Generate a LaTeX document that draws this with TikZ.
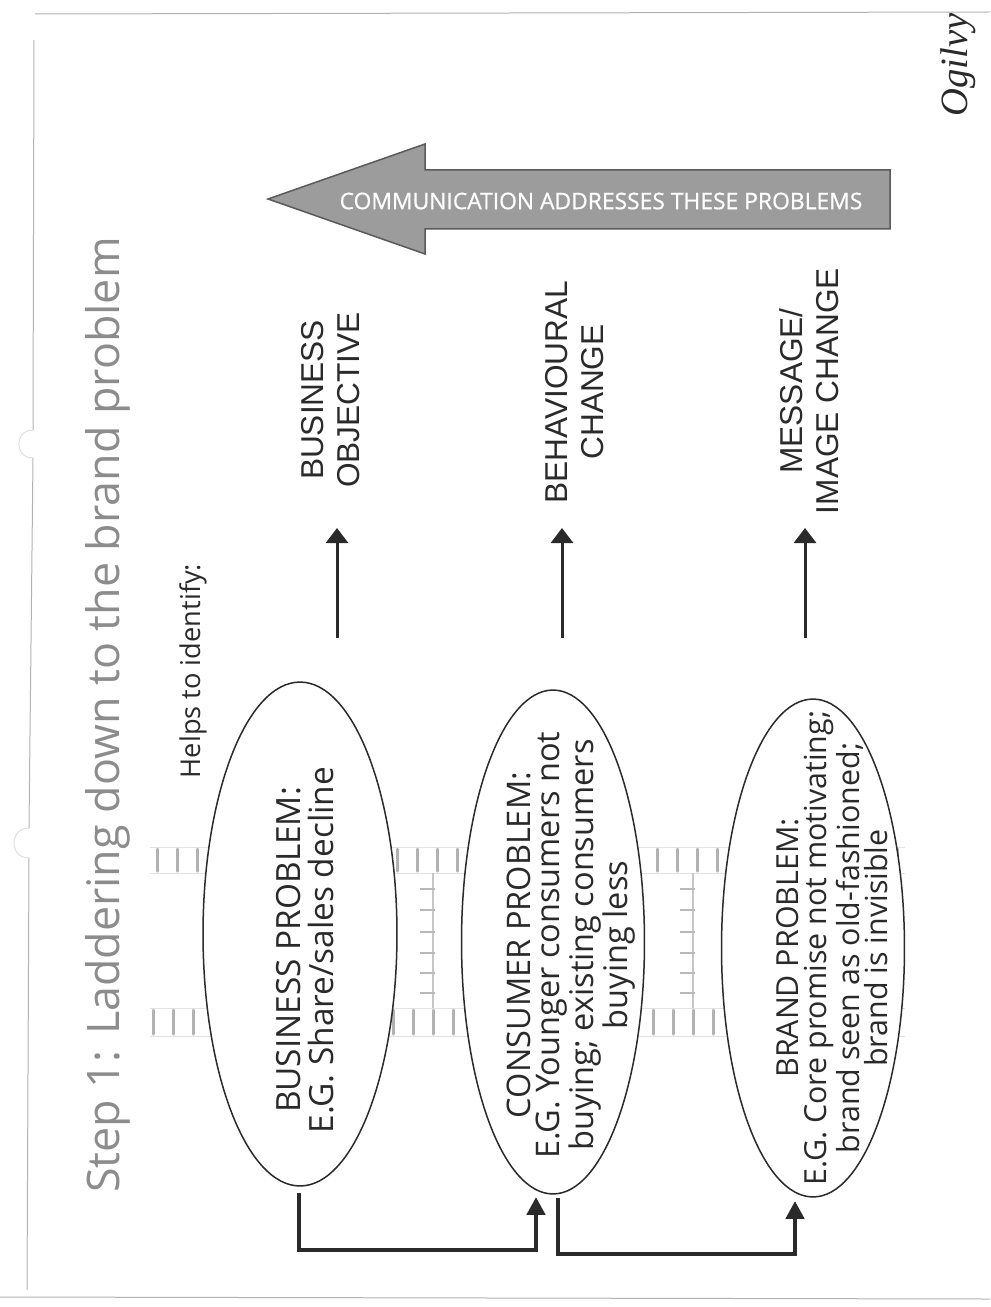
\documentclass[tikz,border=0pt]{standalone}
\usepackage{fontspec}
\setmainfont{Open Sans}
\newfontfamily\labelfont{Liberation Sans}
\newfontfamily\signfont{Liberation Serif}
\newfontfamily\bannerfont[FakeBold=0.8]{Open Sans}
\usetikzlibrary{shapes.geometric,arrows.meta,calc}
\definecolor{ink}{HTML}{2A2A2A}
\definecolor{titlegray}{HTML}{8C8C8C}
\definecolor{arrowfill}{HTML}{9C9C9C}
\definecolor{arrowedge}{HTML}{5A5A5A}
\begin{document}
\begin{tikzpicture}[x=0.02cm,y=-0.02cm,
  frameline/.style={draw=gray!60,line width=0.02cm},
  holeline/.style={draw=gray!25,line width=0.02cm},
  rungmark/.style={draw=gray!60,line width=0.06cm,line cap=round},
  rungguide/.style={draw=gray!22,line width=0.02cm},
  railline/.style={draw=gray!45,line width=0.025cm},
  railtick/.style={draw=gray!55,line width=0.04cm},
  problem/.style={ellipse,draw=ink,fill=white,line width=0.03cm,inner sep=0pt,outer sep=0pt},
  problemtext/.style={rotate=90,align=center,text=ink,inner sep=0pt},
  goal/.style={rotate=90,align=center,text=ink,inner sep=0pt,
    font=\labelfont\fontsize{18}{20.5}\selectfont},
  upmark/.style={draw=ink,line width=0.06cm,-{Triangle[width=0.44cm,length=0.3cm]}},
  ladderlink/.style={draw=ink,line width=0.09cm,-{Triangle[width=0.36cm,length=0.36cm]}},
  bigarrow/.style={fill=arrowfill,draw=arrowedge,line width=0.03cm,line join=miter}]
\useasboundingbox (0,0) rectangle (990,1307);

% page edges and punch holes
\draw[frameline] (35,14) -- (990,12);
\draw[frameline] (0,1297) -- (990,1299);
\draw[frameline] (34,40) -- (33,430);
\draw[frameline] (33,458) -- (29,828);
\draw[frameline] (29,858) -- (27,1290);
\draw[holeline] (33,430) .. controls (14,430) and (14,458) .. (33,458);
\draw[holeline] (29,828) .. controls (9,828) and (9,858) .. (29,858);

% title and intro
\node[rotate=90,text=titlegray,font=\fontsize{25.5}{28}\selectfont,inner sep=0pt] (title) at (108,715)
  {Step 1: Laddering down to the brand problem};
\node[rotate=90,text=ink,font=\fontsize{15.5}{17}\selectfont,inner sep=0pt] (helps) at (193,671)
  {Helps to identify:};

% ladder behind the problem ellipses
\foreach \yy in {847,873,1008,1036} \draw[rungguide] (150,\yy) -- (905,\yy);
\foreach \xx in {157,177,...,897} {
  \draw[rungmark] (\xx,849) -- (\xx,871);
  \draw[rungmark] (\xx-4,1010) -- (\xx-4,1034);
}
\foreach \rx in {433,693} {
  \draw[railline] (\rx,873) -- (\rx,1008);
  \foreach \ty in {889,910,932,953,973,993} \draw[railtick] (\rx-13,\ty) -- (\rx+2,\ty);
}

% the three problem levels
\node[problem,minimum width=3.88cm,minimum height=10.08cm] (business) at (300,934) {};
\node[problem,minimum width=3.66cm,minimum height=10.08cm] (consumer) at (553,942) {};
\node[problem,minimum width=3.66cm,minimum height=9.96cm] (brand) at (813,948) {};

\node[problemtext,font=\fontsize{19}{19}\selectfont] (businesstext) at (305,950)
  {BUSINESS PROBLEM:\\E.G. Share/sales decline};
\node[problemtext,font=\fontsize{18.5}{16.5}\selectfont] (consumertext) at (571,945)
  {CONSUMER PROBLEM:\\E.G. Younger consumers not\\buying; existing consumers\\buying less};
\node[problemtext,font=\fontsize{17.3}{16.3}\selectfont] (brandtext) at (832,948)
  {BRAND PROBLEM:\\E.G. Core promise not motivating;\\brand seen as old-fashioned;\\brand is invisible};

% what each level helps to identify
\node[goal] (objective) at (331,400) {BUSINESS\\OBJECTIVE};
\node[goal] (behaviour) at (575,392) {BEHAVIOURAL\\CHANGE};
\node[goal] (message) at (809,391) {MESSAGE/\\IMAGE CHANGE};

\coordinate (objfrom) at (337,638);
\coordinate (objto) at (337,528);
\coordinate (behfrom) at (562,638);
\coordinate (behto) at (562,528);
\coordinate (msgfrom) at (805,638);
\coordinate (msgto) at (805,528);
\draw[upmark] (objfrom) -- (objto);
\draw[upmark] (behfrom) -- (behto);
\draw[upmark] (msgfrom) -- (msgto);

% laddering links between the levels
\draw[ladderlink] ($(business.south)+(-1,7)$) -- ++(0,57) -| ($(consumer.south)+(-17,3)$);
\draw[ladderlink] ($(consumer.south)+(5,4)$) -- ++(0,56) -| ($(brand.south)+(-18,4)$);

% communication arrow
\draw[bigarrow] (268,199) -- (425,144) -- (425,170) -- (890,170) -- (890,229)
  -- (425,229) -- (425,254) -- cycle;
\node[text=white,font=\bannerfont\fontsize{13}{14}\selectfont,inner sep=0pt] (comm) at (601,201)
  {COMMUNICATION ADDRESSES THESE PROBLEMS};

% signature
\node[rotate=90,text=ink,font=\signfont\itshape\fontsize{22}{22}\selectfont,inner sep=0pt] (sign) at (958,65) {Ogilvy};
\end{tikzpicture}
\end{document}
